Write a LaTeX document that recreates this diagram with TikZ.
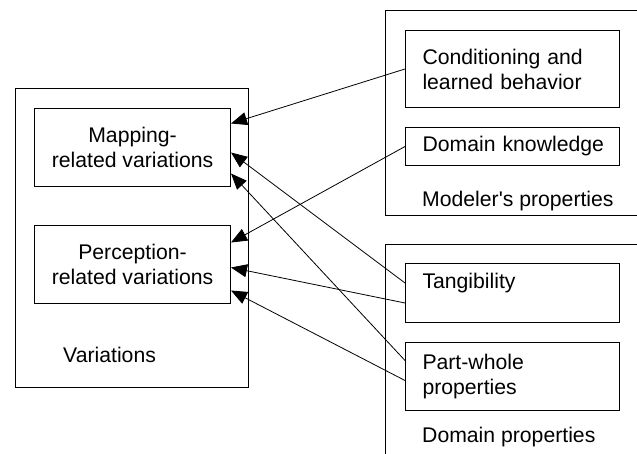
\documentclass[tikz,border=0pt]{standalone}
\usepackage{fontspec}
\setmainfont{Liberation Sans}
\usetikzlibrary{arrows.meta}
\newcommand{\boxfont}{\fontsize{21.2}{25}\selectfont\hyphenpenalty=10000}
\tikzstyle{groupbox} = [
    draw,
    line width=1pt,
    rectangle,
    anchor=north west,
    inner sep=0pt
    ]
\tikzstyle{varbox} = [
    draw,
    line width=1pt,
    rectangle,
    anchor=north west,
    inner sep=0pt,
    minimum width=196pt,
    minimum height=78pt,
    align=center,
    font=\boxfont
    ]
\tikzstyle{propbox} = [
    draw,
    line width=1pt,
    rectangle,
    anchor=north west,
    inner xsep=17pt,
    inner ysep=0pt,
    text width=180pt,
    align=left,
    font=\boxfont
    ]
\tikzstyle{grouplabel} = [
    anchor=west,
    inner sep=0pt,
    font=\boxfont
    ]
\tikzstyle{link} = [
    line width=0.8pt,
    -{Triangle[length=16pt,width=13pt]}
    ]

\begin{document}
\begin{tikzpicture}[x=1pt,y=-1pt]
\useasboundingbox (0,0) rectangle (637,454);
\clip (0,0) rectangle (637,454);

% containers
\node[groupbox, minimum width=233pt, minimum height=299pt] (variations) at (15,88) {};
\node[groupbox, minimum width=280pt, minimum height=205pt] (modeler) at (385,10) {};
\node[groupbox, minimum width=280pt, minimum height=240pt] (domain) at (385,244) {};

% variations
\node[varbox] (map) at (34,108) {Mapping-\\related variations};
\node[varbox] (perc) at (34,225) {Perception-\\related variations};
\node[grouplabel] (varlabel) at (63,355) {Variations};

% modeler's properties
\node[propbox, minimum height=77pt] (cond) at (405,30) {Conditioning and\\learned behavior};
\node[propbox, minimum height=38pt] (know) at (405,127) {\mbox{Domain knowledge}};
\node[grouplabel] (modlabel) at (422,201) {Modeler\textquotesingle s properties};

% domain properties
\node[propbox, minimum height=59pt] (tang) at (405,263) {Tangibility\\\mbox{}};
\node[propbox, minimum height=68pt] (part) at (405,342) {Part-whole\\properties};
\node[grouplabel] (domlabel) at (422,437) {Domain properties};

% links
\draw[link] (cond.west) -- ([yshift=24pt]map.east);
\draw[link] (know.west) -- ([yshift=22pt]perc.east);
\draw[link] ([yshift=10pt]tang.west) -- ([yshift=-5pt]map.east);
\draw[link] ([yshift=-10pt]tang.west) -- ([yshift=-3pt]perc.east);
\draw[link] ([yshift=16pt]part.west) -- ([yshift=-26pt]map.east);
\draw[link] ([yshift=-4pt]part.west) -- ([yshift=-26pt]perc.east);
\end{tikzpicture}
\end{document}
